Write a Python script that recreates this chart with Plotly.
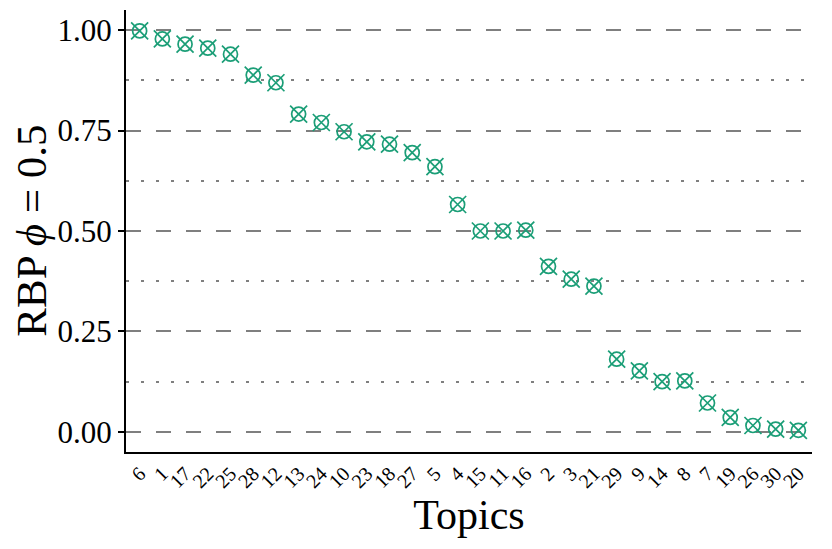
import plotly.graph_objects as go

topics = ["6", "1", "17", "22", "25", "28", "12", "13", "24", "10", "23", "18", "27", "5", "4",
          "15", "11", "16", "2", "3", "21", "29", "9", "14", "8", "7", "19", "26", "30", "20"]
rbp = [0.998, 0.978, 0.965, 0.955, 0.940, 0.888, 0.869, 0.791, 0.770, 0.747, 0.722, 0.716,
       0.695, 0.660, 0.566, 0.500, 0.500, 0.502, 0.412, 0.380, 0.363, 0.181, 0.152, 0.125,
       0.127, 0.072, 0.036, 0.016, 0.007, 0.004]
y_tickvals = [0.0, 0.25, 0.5, 0.75, 1.0]
y_ticktext = ["0.00", "0.25", "0.50", "0.75", "1.00"]
y_minorvals = [0.125, 0.375, 0.625, 0.875]

green = "#1b9e77"
grid = "#7f7f7f"
font = "Liberation Serif"

fig = go.Figure()
fig.add_trace(go.Scatter(x=topics, y=rbp, mode="markers",
                         marker=dict(symbol="circle-open", size=14, color=green,
                                     line=dict(width=1.7, color=green)),
                         hoverinfo="x+y", showlegend=False))
fig.add_trace(go.Scatter(x=topics, y=rbp, mode="markers",
                         marker=dict(symbol="x-thin-open", size=17, color=green,
                                     line=dict(width=1.7, color=green)),
                         hoverinfo="skip", showlegend=False))

# page body has an 8px margin, so the figure is shifted by 8px
fig.update_layout(
    width=824, height=541,
    margin=dict(l=118, r=20, t=2, b=97),
    paper_bgcolor="white", plot_bgcolor="white",
    font=dict(family=font, color="black"),
    xaxis=dict(type="category", range=[-0.6, len(topics) - 0.4], automargin=False,
               tickmode="array", tickvals=topics, ticktext=topics,
               showline=True, linecolor="black", linewidth=2.2,
               showgrid=False, zeroline=False, ticks="",
               tickangle=-45, tickfont=dict(size=20, family=font),
               title=dict(text="Topics", font=dict(size=42, family=font), standoff=2)),
    yaxis=dict(range=[-0.05, 1.05], tickvals=y_tickvals, ticktext=y_ticktext, automargin=False,
               showline=True, linecolor="black", linewidth=2.2,
               ticks="outside", ticklen=6, tickwidth=2, tickcolor="black",
               tickfont=dict(size=31, family=font),
               showgrid=True, gridcolor=grid, gridwidth=2.2, griddash="15px,15px",
               zeroline=False,
               minor=dict(tickvals=y_minorvals, showgrid=True, gridcolor=grid,
                          gridwidth=2.2, griddash="3px,12px", ticks="")),
    annotations=[dict(text="RBP <i>ϕ</i> = 0.5", xref="paper", yref="paper",
                      x=-0.139, y=0.5, xanchor="center", yanchor="middle",
                      textangle=-90, showarrow=False,
                      font=dict(size=43, family=font, color="black"))],
)

fig.write_html("out.html")
